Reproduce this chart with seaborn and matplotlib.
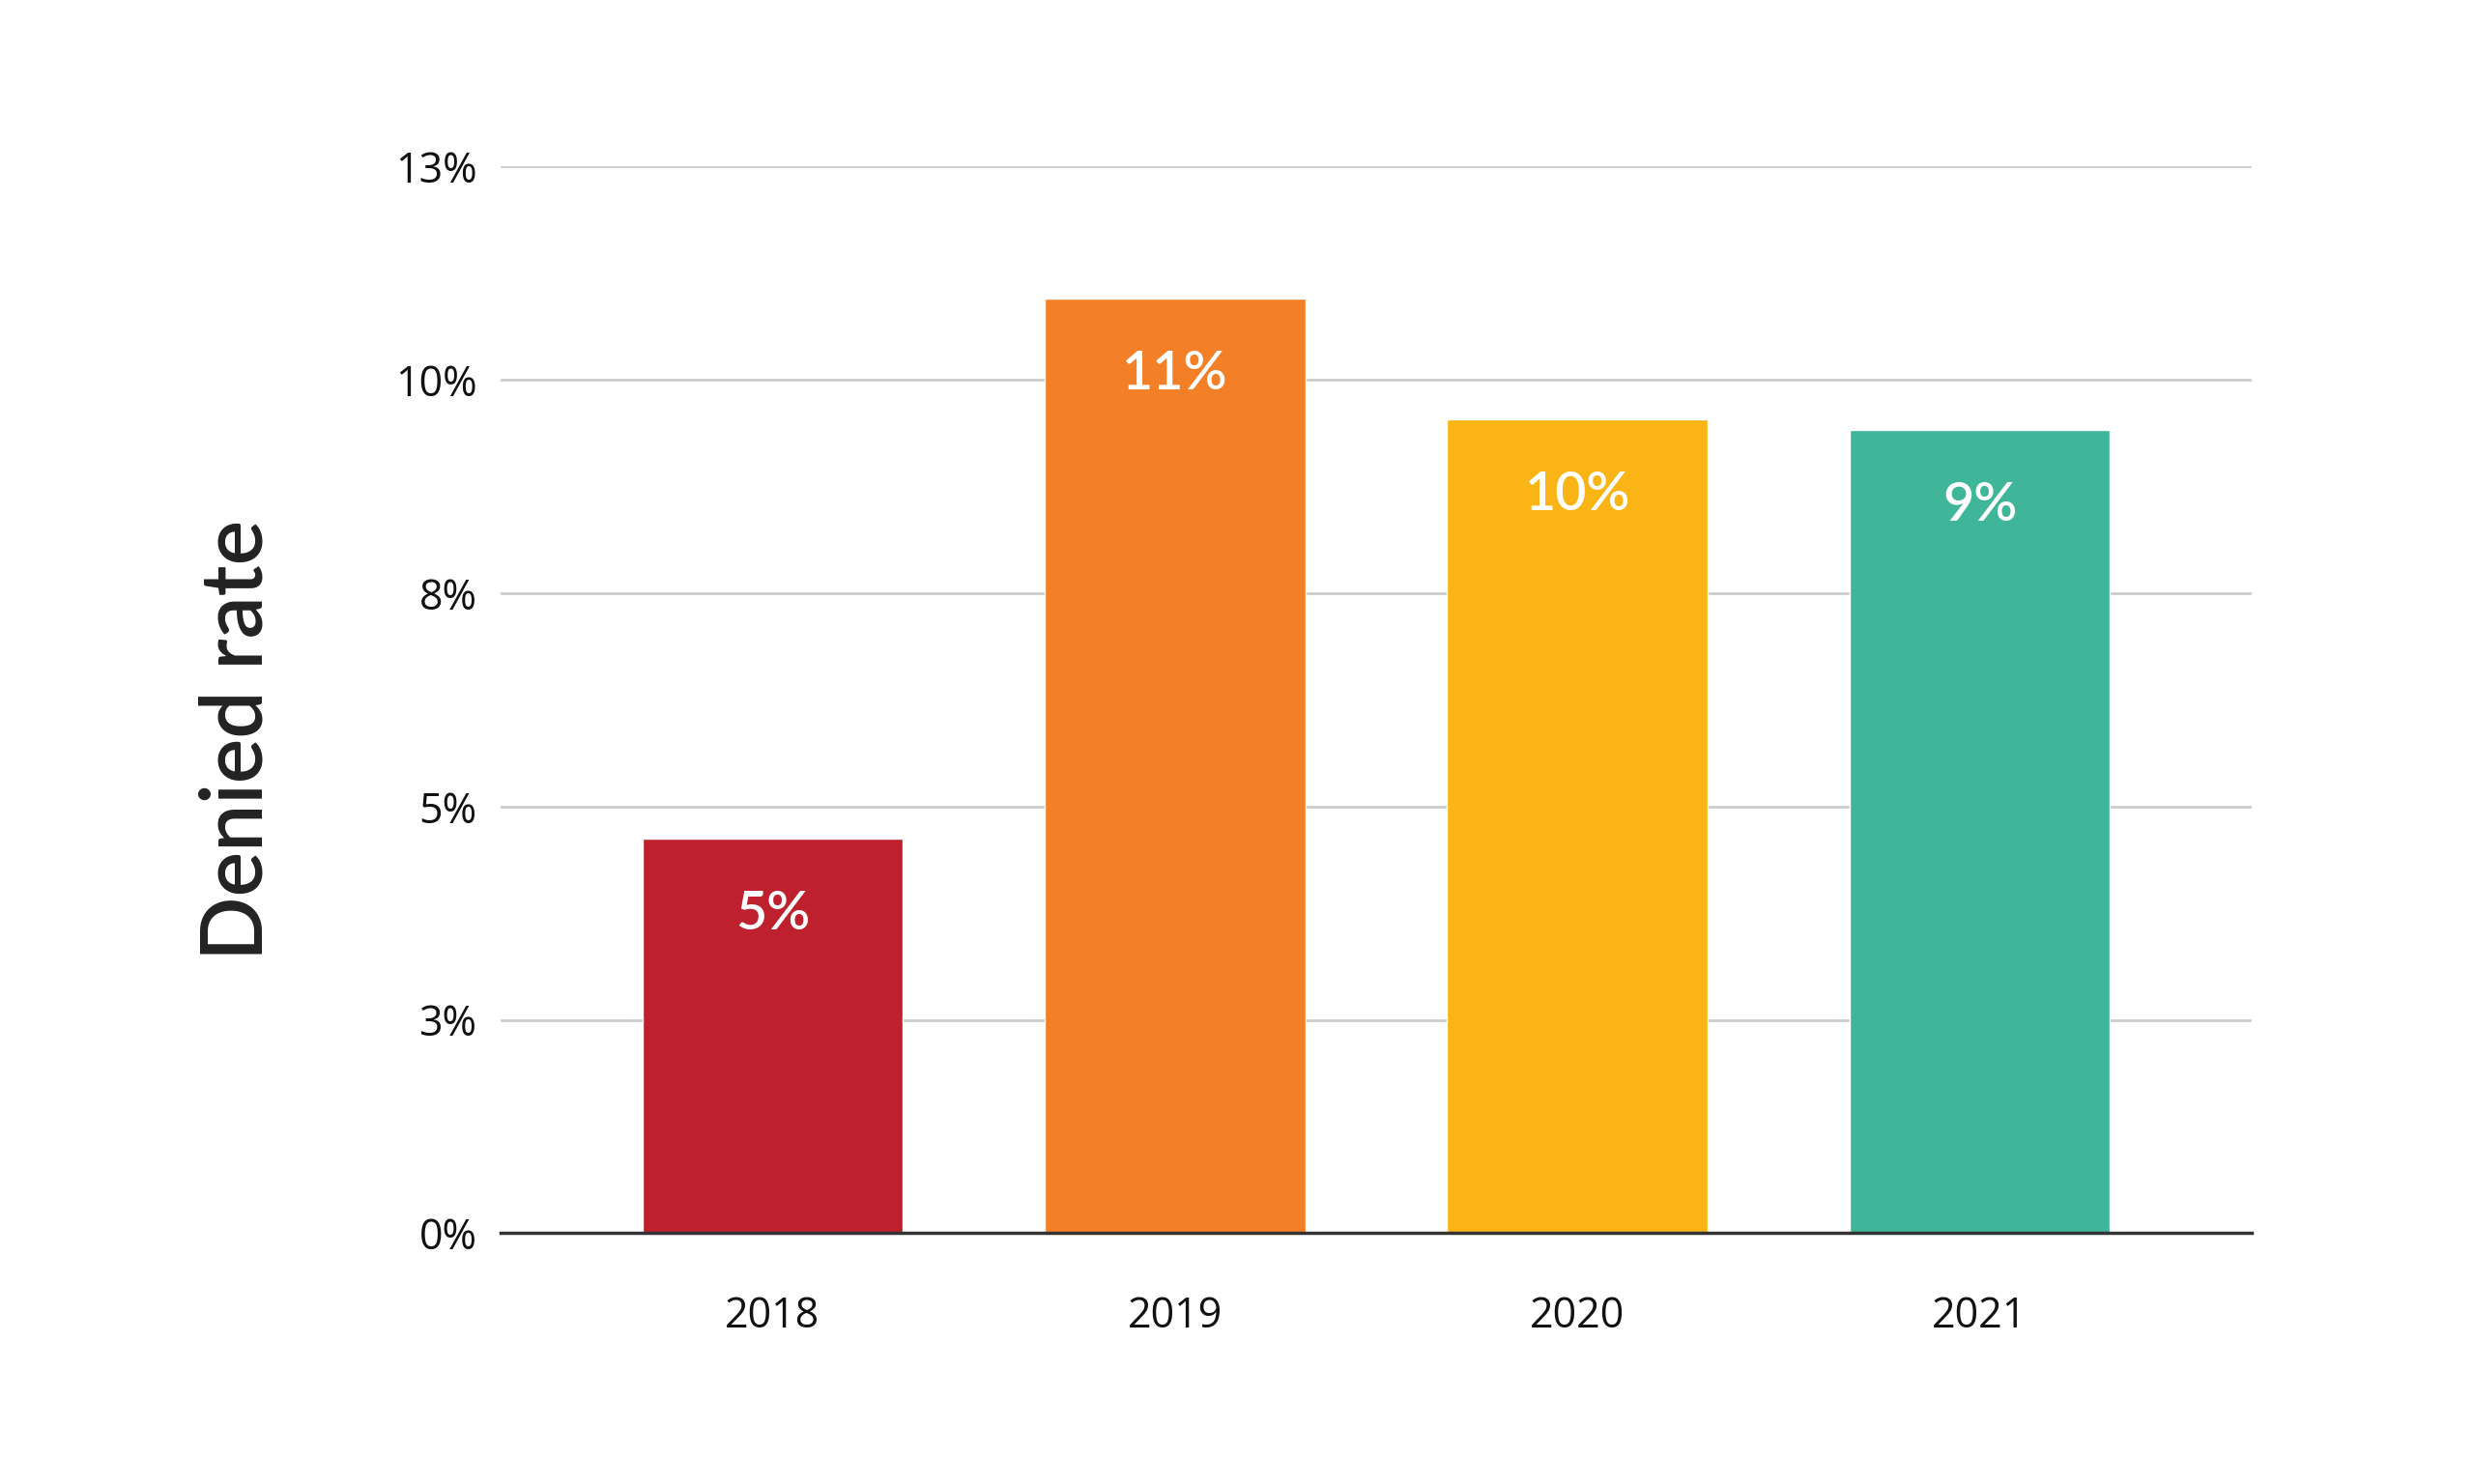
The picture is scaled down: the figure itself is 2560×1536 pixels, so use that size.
import matplotlib
matplotlib.use("Agg")
import matplotlib.pyplot as plt
import seaborn as sns
import pandas as pd
from matplotlib.ticker import FuncFormatter

years = ["2018", "2019", "2020", "2021"]
rates = [4.62, 10.95, 9.54, 9.41]
bar_labels = ["5%", "11%", "10%", "9%"]
colors = ["#BE202E", "#F37F26", "#FBB416", "#3FB699"]
yticks = [0, 2.5, 5, 7.5, 10, 12.5]

df = pd.DataFrame({"year": years, "rate": rates})

sns.set_theme(style="white")
plt.rcParams["font.family"] = ["Open Sans", "DejaVu Sans"]

fig = plt.figure(figsize=(25.6, 15.36), dpi=100)
ax = fig.add_axes([0.2025, 0.169, 0.7075, 0.7187])

sns.barplot(data=df, x="year", y="rate", hue="year", palette=colors,
            width=0.647, legend=False, ax=ax, saturation=1)

ax.set_xlim(-0.675, 3.675)
ax.set_ylim(0, 12.5)
ax.set_yticks(yticks)
ax.yaxis.set_major_formatter(FuncFormatter(lambda v, p: f"{int(v + 0.5)}%"))
ax.grid(axis="y", color="#cccccc", linewidth=2)
ax.set_axisbelow(True)
for s in ["top", "right", "left"]:
    ax.spines[s].set_visible(False)
ax.spines["bottom"].set_color("#333333")
ax.spines["bottom"].set_linewidth(2.5)
ax.spines["bottom"].set_zorder(5)

ax.tick_params(axis="y", length=0, pad=18, labelsize=31, labelcolor="#111111")
ax.tick_params(axis="x", length=0, pad=46, labelsize=31, labelcolor="#111111")
ax.set_xlabel("")
ax.set_ylabel("Denied rate", fontsize=63, fontweight="semibold", color="#222222",
              family=["Lato", "DejaVu Sans"])
ax.yaxis.set_label_coords(-0.128, 0.462)

for i, (v, lab) in enumerate(zip(rates, bar_labels)):
    ax.annotate(lab, xy=(i, v), xytext=(0, -56), textcoords="offset points",
                ha="center", va="center", color="white", fontsize=40,
                fontweight="semibold", family=["Lato", "DejaVu Sans"])

fig.savefig("out.png", dpi=100, facecolor="white")
